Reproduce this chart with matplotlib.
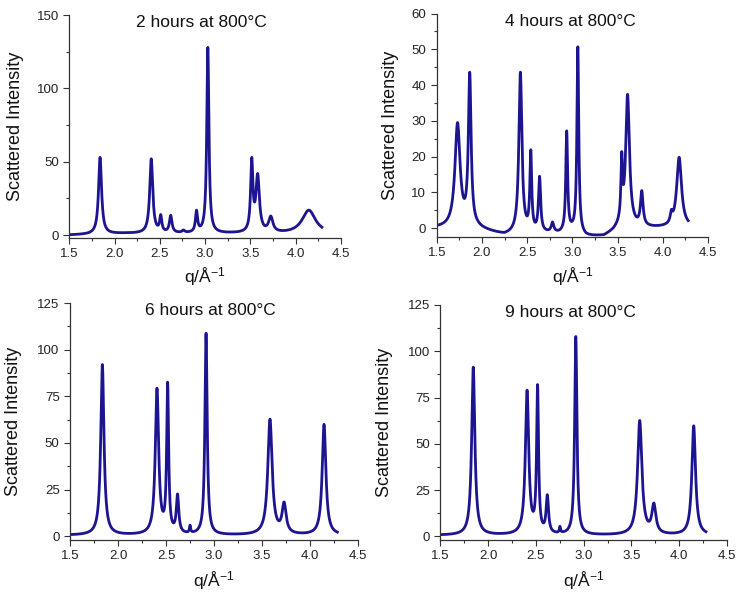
import numpy as np
import matplotlib
matplotlib.use("Agg")
import matplotlib.pyplot as plt
from matplotlib.ticker import MultipleLocator

plt.rcParams['font.family'] = ['Liberation Sans', 'DejaVu Sans']
plt.rcParams['mathtext.default'] = 'regular'

# panel titles
titles = ['2 hours at 800°C', '4 hours at 800°C', '6 hours at 800°C', '9 hours at 800°C']

# peaks: centre q (1/Å), intensity at the peak, half width
q_2h = [1.84, 2.405, 2.51, 2.62, 2.76, 2.905, 3.03, 3.515, 3.58, 3.725, 4.145]
h_2h = [53, 52, 14, 13.5, 3.5, 17, 128, 53, 42, 13, 17]
w_2h = [0.02, 0.02, 0.014, 0.017, 0.017, 0.014, 0.014, 0.015, 0.023, 0.028, 0.09]
bgq_2h = [1.5, 2.1, 3.3, 3.9, 4.3]
bgv_2h = [0.0, 1.0, 1.0, 0.8, 0.8]

q_4h = [1.73, 1.865, 2.425, 2.54, 2.637, 2.78, 2.937, 3.06, 3.545, 3.61, 3.767, 4.094, 4.18]
h_4h = [29.5, 43.6, 43.6, 21.9, 14.5, 1.7, 27.2, 50.7, 21.4, 37.4, 10.5, 5.2, 19.8]
w_4h = [0.034, 0.018, 0.02, 0.012, 0.014, 0.017, 0.012, 0.012, 0.01, 0.025, 0.017, 0.014, 0.032]
bgq_4h = [1.5, 1.95, 2.25, 2.35, 2.7, 2.85, 3.0, 3.15, 3.35, 3.45, 3.52, 3.9, 4.3]
bgv_4h = [0.0, -0.3, -2.1, -1.8, -1.6, -1.7, -1.2, -2.5, -2.4, -1.2, 0.0, 0.0, 0.2]

q_6h = [1.837, 2.406, 2.517, 2.62, 2.75, 2.917, 3.583, 3.73, 4.146]
h_6h = [92, 79.4, 82.6, 22.7, 6.0, 108.8, 62.8, 18.4, 60]
w_6h = [0.02, 0.021, 0.012, 0.015, 0.007, 0.014, 0.027, 0.025, 0.023]
bgq_6h = [1.5, 4.3]
bgv_6h = [0.5, 0.5]

q_9h = [1.845, 2.408, 2.518, 2.62, 2.752, 2.918, 3.587, 3.735, 4.152]
h_9h = [91.4, 79, 82, 22.5, 5.4, 108, 62.6, 18, 59.7]
w_9h = [0.02, 0.021, 0.012, 0.015, 0.007, 0.014, 0.027, 0.025, 0.023]
bgq_9h = [1.5, 4.3]
bgv_9h = [0.5, 0.5]

q_end = [4.29, 4.28, 4.285, 4.28]

peaks = [(q_2h, h_2h, w_2h, bgq_2h, bgv_2h),
         (q_4h, h_4h, w_4h, bgq_4h, bgv_4h),
         (q_6h, h_6h, w_6h, bgq_6h, bgv_6h),
         (q_9h, h_9h, w_9h, bgq_9h, bgv_9h)]

ylims = [(-2, 150), (-2.5, 60), (-2, 125), (-2, 125)]
ymajor = [50, 10, 25, 25]


def lorentz(q, c, w):
    return 1.0 / (1.0 + ((q - c) / w) ** 2)


def pattern(q, centres, heights, widths, bgq, bgv):
    c = np.array(centres)
    w = np.array(widths)
    # amplitudes so the curve passes through the read peak heights
    M = lorentz(c[:, None], c[None, :], w[None, :])
    A = np.linalg.solve(M, np.array(heights) - np.interp(c, bgq, bgv))
    return np.interp(q, bgq, bgv) + lorentz(q[:, None], c[None, :], w[None, :]) @ A


fig = plt.figure(figsize=(7.44, 5.98), dpi=100)
rects = [[0.0931, 0.602, 0.3652, 0.3729],
         [0.587, 0.6037, 0.3647, 0.3737],
         [0.0941, 0.097, 0.3871, 0.3963],
         [0.5918, 0.097, 0.3853, 0.393]]
title_x = [0.485, 0.494, 0.486, 0.455]
line_col = '#1c1490'
axis_col = '#333333'

for i in range(4):
    ax = fig.add_axes(rects[i])
    q = np.linspace(1.5, q_end[i], 3000)
    ax.plot(q, pattern(q, *peaks[i]), color=line_col, lw=2.0,
            solid_joinstyle='round')

    ax.set_xlim(1.5, 4.5)
    ax.set_ylim(*ylims[i])
    ax.xaxis.set_major_locator(MultipleLocator(0.5))
    ax.xaxis.set_minor_locator(MultipleLocator(0.25))
    ax.yaxis.set_major_locator(MultipleLocator(ymajor[i]))
    ax.yaxis.set_minor_locator(MultipleLocator(ymajor[i] / 2))
    ax.spines['top'].set_visible(False)
    ax.spines['right'].set_visible(False)
    for s in ['left', 'bottom']:
        ax.spines[s].set_color(axis_col)
        ax.spines[s].set_linewidth(0.9)
    ax.tick_params(which='major', direction='out', length=4, width=0.8,
                   color=axis_col, labelsize=9.5, labelcolor='#222222')
    ax.tick_params(which='minor', direction='out', length=2.5, width=0.8, color=axis_col)

    ax.text(title_x[i], 1.0, titles[i], transform=ax.transAxes,
            ha='center', va='top', fontsize=12.5, color='#111111')
    ax.set_ylabel('Scattered Intensity', fontsize=13, color='#111111')
    ax.yaxis.set_label_coords(-0.165 if i != 1 else -0.14, 0.5)
    ax.set_xlabel(r'q/Å$^{-1}$', fontsize=12.5, color='#111111')
    ax.xaxis.set_label_coords(0.5, -0.125)

fig.savefig('out.png', dpi=100)
